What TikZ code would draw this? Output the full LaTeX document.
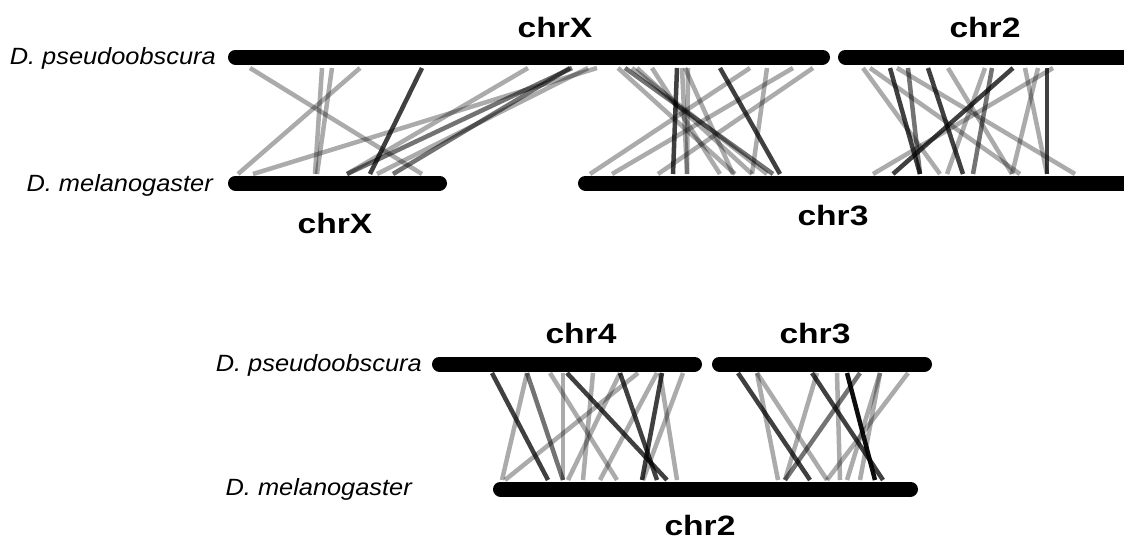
\documentclass[tikz,border=0pt]{standalone}
\usepackage{fontspec}
\setmainfont{Liberation Sans}
\usepackage{graphicx}
\begin{document}
\begin{tikzpicture}[x=1pt,y=-1pt,
  bar/.style={line width=15pt,line cap=round},
  syn/.style={line width=4.5pt},
  lt/.style={syn,draw=black,draw opacity=0.33},
  md/.style={syn,draw=black,draw opacity=0.55},
  dk/.style={syn,draw=black,draw opacity=0.75},
  bk/.style={syn,draw=black,draw opacity=0.95},
  sp/.style={font=\fontsize{23.5}{26}\selectfont\itshape,inner sep=0pt},
  chrlab/.style={font=\fontsize{28}{30}\selectfont\bfseries,inner sep=0pt,anchor=base}]
\useasboundingbox (0,0) rectangle (1124,541);

% ---- upper panel: synteny lines ----
\foreach \a/\b in {250/422,322/315,332/317,360/238,528/347,597/253,588/377,
  618/735,632/767,637/752,652/720,682/687,688/687,750/590,767/752,793/612,813/658,685/733,
  863/940,897/1075,948/1012,985/947,1025/1047,1053/873,1038/1012,870/1020}
  \draw[lt] (\a,68) -- (\b,174);
\foreach \a/\b in {572/347,570/393,625/773,908/920,992/973}
  \draw[md] (\a,68) -- (\b,174);
\foreach \a/\b in {422/370,677/673,720/780,890/920,928/963,1013/893,1047/1047}
  \draw[dk] (\a,68) -- (\b,174);

% ---- lower panel: synteny lines ----
\foreach \a/\b in {527/502,550/617,563/563,593/583,638/505,657/600,683/643,620/568,660/677,
  757/778,757/827,837/840,880/847,880/860,908/827,817/785}
  \draw[lt] (\a,373) -- (\b,480);
\foreach \a/\b in {527/563,860/785}
  \draw[md] (\a,373) -- (\b,480);
\foreach \a/\b in {492/548,567/667,620/657,662/642,738/810,812/883}
  \draw[dk] (\a,373) -- (\b,480);
\foreach \a/\b in {847/875}
  \draw[bk] (\a,373) -- (\b,480);

% ---- chromosome bars ----
\draw[bar] (235.5,57) -- (822.5,57);
\draw[bar] (845.5,57) -- (1140,57);
\draw[bar] (235.5,183) -- (439.5,183);
\draw[bar] (585.5,183) -- (1140,183);
\draw[bar] (439.5,364) -- (694.5,364);
\draw[bar] (719.5,364) -- (924.5,364);
\draw[bar] (500.5,489) -- (910.5,489);

% ---- labels ----
\node[sp,anchor=base east] (spA) at (216,64) {\scalebox{1.08}[1]{D. pseudoobscura}};
\node[sp,anchor=base east] (spB) at (213,191) {\scalebox{1.08}[1]{D. melanogaster}};
\node[sp,anchor=base east] (spC) at (422,371) {\scalebox{1.08}[1]{D. pseudoobscura}};
\node[sp,anchor=base east] (spD) at (412,495) {\scalebox{1.08}[1]{D. melanogaster}};

\node[chrlab] (cA) at (555,37) {\scalebox{1.2}[1]{chrX}};
\node[chrlab] (cB) at (985,37) {\scalebox{1.2}[1]{chr2}};
\node[chrlab] (cC) at (335,233) {\scalebox{1.2}[1]{chrX}};
\node[chrlab] (cD) at (833,225) {\scalebox{1.2}[1]{chr3}};
\node[chrlab] (cE) at (581,343) {\scalebox{1.2}[1]{chr4}};
\node[chrlab] (cF) at (815,343) {\scalebox{1.2}[1]{chr3}};
\node[chrlab] (cG) at (700,535) {\scalebox{1.2}[1]{chr2}};
\end{tikzpicture}
\end{document}
